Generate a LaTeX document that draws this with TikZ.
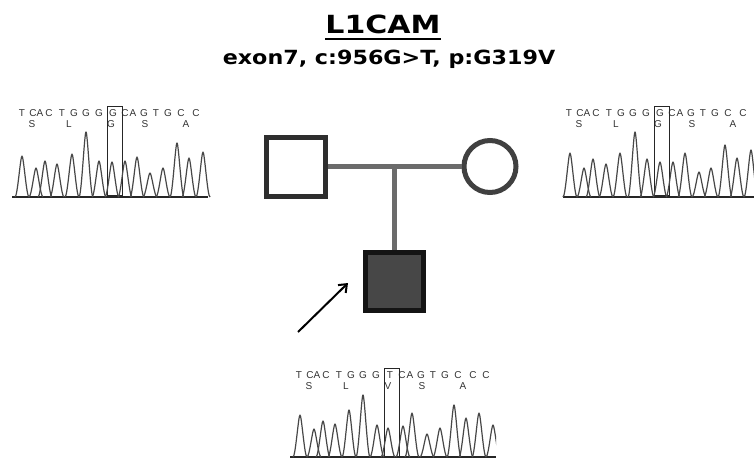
\documentclass[tikz,border=0pt]{standalone}
\usepackage{fontspec}
\setmainfont{Liberation Sans}
\newfontfamily\headfont{DejaVu Sans}
\usetikzlibrary{arrows.meta}
\tikzset{
  pedline/.style={line width=4.5pt, draw=black!58},
  pedmale/.style={draw=black!82, line width=5pt, minimum size=59pt, inner sep=0pt, fill=white},
  pedfemale/.style={circle, draw=black!75, line width=5pt, minimum size=52pt, inner sep=0pt, fill=white},
  pedaffected/.style={draw=black!92, fill=black!72, line width=5pt, minimum size=58pt, inner sep=0pt},
  pointer/.style={line width=2pt, draw=black, -{Straight Barb[length=7pt,width=11pt,line width=2pt]}},
  seqtxt/.style={font=\fontsize{10}{10}\selectfont, text=black!80, inner sep=0pt},
  boxline/.style={draw=black!85, line width=0.9pt},
  trace/.style={draw=black!72, line width=1.2pt, line join=round},
  baseline/.style={draw=black!85, line width=1.4pt},
}
% letters and box of one chromatogram, shifted relative to the left panel
\newcommand\seqletters[5]{%
  \begin{scope}[shift={(#1,#2)}]
    \foreach \p/\c [count=\k] in {22/T,33/C,40/A,49/C,62/T,74/G,86/G,99/G,113/#3,125/C,133/A,144/G,156/T,168/G,181/C,196/C#5}
      \node[seqtxt, name=#4a\k] at (\p,113) {\c};
    \foreach \p/\c [count=\k] in {32/S,69/L,111/#4,145/S,186/A}
      \node[seqtxt, name=#4b\k] at (\p,124.5) {\c};
    \draw[boxline] (107,106) rectangle (122,195);
  \end{scope}}
\newcommand\seqpeaks[2]{%
  \foreach \px/\py in {#2}
    \draw[trace] (\px-7,#1) .. controls (\px-4.5,#1) and (\px-1.6,\py) .. (\px,\py)
                 .. controls (\px+1.6,\py) and (\px+4.5,#1) .. (\px+7,#1);}
\begin{document}
\begin{tikzpicture}[x=1pt,y=-1pt]
\useasboundingbox[fill=white] (0,0) rectangle (754,458);

% title
\node[font=\headfont\bfseries\fontsize{25}{25}\selectfont, xscale=1.2, anchor=base, inner sep=0pt] (title) at (383,33) {L1CAM};
\draw[line width=2.5pt] ([yshift=-6pt]title.base west) -- ([yshift=-6pt]title.base east);
\node[font=\headfont\bfseries\fontsize{19.5}{19.5}\selectfont, xscale=1.14, anchor=base, inner sep=0pt] (subtitle) at (389,64) {exon7, c:956G>T, p:G319V};

% pedigree
\node[pedmale] (father) at (296,166.5) {};
\node[pedfemale] (mother) at (490,166.5) {};
\node[pedaffected] (child) at (394.5,281.5) {};
\draw[pedline] (father.east) -- (mother.west);
\draw[pedline] (child.north |- father.east) -- (child.north);
\coordinate (arrowtail) at (298,332);
\coordinate (arrowtip) at (348,283);
\draw[pointer] (arrowtail) -- (arrowtip);

% left chromatogram (father)
\seqletters{0}{0}{G}{G}{}
\draw[baseline] (12,197) -- (208,197);
\seqpeaks{197}{22/156,36/168,45/161,57/164,72/154,86/132,99/161,112/162,125/161,137/157,150/173,163/168,177/143,189/158,203/152}

% right chromatogram (mother)
\seqletters{547}{0}{G}{G}{}
\draw[baseline] (563,197) -- (754,197);
\seqpeaks{197}{570/153,584/168,593/159,606/164,620/153,635/132,647/159,660/162,673/162,685/153,699/172,711/168,725/145,737/158,751/150}

% bottom chromatogram (proband)
\seqletters{277}{262}{T}{V}{,209/C}
\begin{scope}
\clip (285,360) rectangle (496,458);
\draw[baseline] (290,457) -- (496,457);
\seqpeaks{457}{300/415,314/429,323/421,335/424,349/410,363/395,377/425,388/428,403/426,412/413,427/434,440/428,454/405,466/418,479/413,493/425}
\end{scope}
\end{tikzpicture}
\end{document}
